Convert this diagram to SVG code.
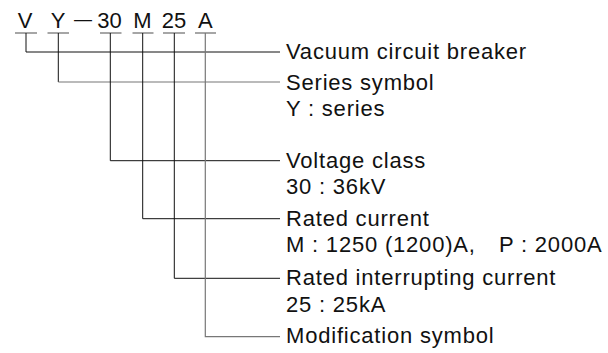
<svg xmlns="http://www.w3.org/2000/svg" width="608" height="353" viewBox="0 0 608 353">
<style>
text{font-family:"Liberation Sans",Arial,Helvetica,sans-serif;font-size:22px;fill:#111;letter-spacing:0.8px}
.code{text-anchor:middle;letter-spacing:0}
.dash{font-size:18px}
.ul{stroke:#888;stroke-width:1.5;fill:none}
.c{stroke:#111;stroke-width:1;fill:none}
.g{stroke:#777;stroke-width:1.2;fill:none}
</style>
<rect width="608" height="353" fill="#fff"/>
<g id="code">
<text class="code" x="25" y="28.3">V</text>
<text class="code" x="58" y="28.3">Y</text>
<text class="code dash" x="83" y="24.5">—</text>
<text class="code" x="109.5" y="28.3">30</text>
<text class="code" x="142.3" y="28.3">M</text>
<text class="code" x="174" y="28.3">25</text>
<text class="code" x="205.3" y="28.3">A</text>
<line class="ul" x1="15" y1="33" x2="37" y2="33"/>
<line class="ul" x1="47.5" y1="33" x2="69" y2="33"/>
<line class="ul" x1="100" y1="33" x2="121.5" y2="33"/>
<line class="ul" x1="132.5" y1="33" x2="153.5" y2="33"/>
<line class="ul" x1="163" y1="33" x2="185" y2="33"/>
<line class="ul" x1="195" y1="33" x2="216" y2="33"/>
</g>
<g id="connectors">
<polyline class="c" points="26,33 26,52 280,52"/>
<polyline class="c" points="58.3,33 58.3,82"/>
<line class="g" x1="58.3" y1="82" x2="280" y2="82"/>
<polyline class="c" points="110.3,33 110.3,160.7 280,160.7"/>
<polyline class="c" points="142.7,33 142.7,218.7 280,218.7"/>
<polyline class="c" points="174.3,33 174.3,278.3 280,278.3"/>
<polyline class="g" points="205.3,33 205.3,336.7 280,336.7"/>
</g>
<g id="vacuum"><text x="286" y="58.5">Vacuum circuit breaker</text></g>
<g id="series"><text x="286" y="90">Series symbol</text><text x="286" y="115.5">Y : series</text></g>
<g id="voltage"><text x="286" y="168.3">Voltage class</text><text x="286" y="194">30 : 36kV</text></g>
<g id="current"><text x="286" y="226">Rated current</text><text x="286" y="251.7">M : 1250 (1200)A,</text><text x="499" y="251.7">P : 2000A</text></g>
<g id="interrupting"><text x="286" y="285">Rated interrupting current</text><text x="286" y="311.7">25 : 25kA</text></g>
<g id="modification"><text x="286" y="343.3">Modification symbol</text></g>
</svg>
